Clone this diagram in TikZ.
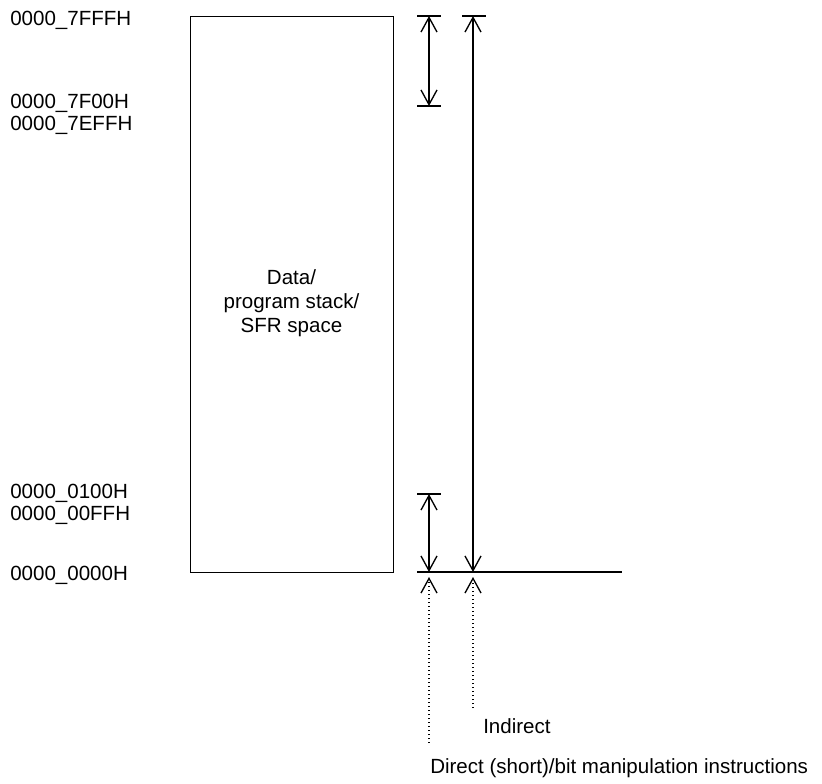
\documentclass[tikz,border=0pt]{standalone}
\usepackage{fontspec}
\setmainfont{Liberation Sans}
\usetikzlibrary{arrows.meta,positioning}

\begin{document}
\begin{tikzpicture}[x=0.75pt,y=-0.75pt,
  >={Straight Barb[length=11pt,width=12pt]},
  addr/.style={anchor=base west,inner sep=0pt,font=\fontsize{15.4}{18}\selectfont},
  note/.style={anchor=base west,inner sep=0pt,font=\fontsize{15.4}{18}\selectfont},
  block/.style={draw,line width=1pt,inner sep=0pt,anchor=north west,
                minimum width=152.25pt,minimum height=417pt},
  tick/.style={line width=1pt},
  dim/.style={<->,line width=1pt},
  guide/.style={->,dotted,line width=1pt}
]
\useasboundingbox (0,0) rectangle (822,783);

% Memory block
\node[block] (mem) at (190,16) {};
\node[align=center,inner sep=0pt,anchor=north,font=\fontsize{15.4}{18}\selectfont]
  (memlab) at (291.5,269) {Data/\\program stack/\\SFR space};

% Address labels
\node[addr] (a7fff) at (10,25) {0000\_7FFFH};
\node[addr] (a7f00) at (10,108) {0000\_7F00H};
\node[addr] (a7eff) at (10,130) {0000\_7EFFH};
\node[addr] (a0100) at (10,498) {0000\_0100H};
\node[addr] (a00ff) at (10,520) {0000\_00FFH};
\node[addr] (a0000) at (10,580) {0000\_0000H};

% Range end points
\coordinate (sfrtop) at (429,16);
\coordinate (sfrbot) at (429,106);
\coordinate (indtop) at (473,16);
\coordinate (indbot) at (473,572);
\coordinate (shtop)  at (429,494);
\coordinate (shbot)  at (429,572);

% Limit bars and base line
\draw[tick] (417,16) -- (441,16);
\draw[tick] (462,16) -- (486,16);
\draw[tick] (417,106) -- (441,106);
\draw[tick] (417,494) -- (441,494);
\draw[tick] (417,572) -- (622,572);

% Ranges
\draw[dim] (sfrtop) -- (sfrbot);
\draw[dim] (indtop) -- (indbot);
\draw[dim] (shtop) -- (shbot);

% Addressing modes
\coordinate (dirend) at (429,743);
\coordinate (indend) at (473,708);
\coordinate (dirtip) at (429,577);
\coordinate (indtip) at (473,577);
\draw[guide] (dirend) -- (dirtip);
\draw[guide] (indend) -- (indtip);
\node[note] (indlab) at (483,733) {Indirect};
\node[note] (dirlab) at (430,773) {Direct (short)/bit manipulation instructions};

\end{tikzpicture}
\end{document}
